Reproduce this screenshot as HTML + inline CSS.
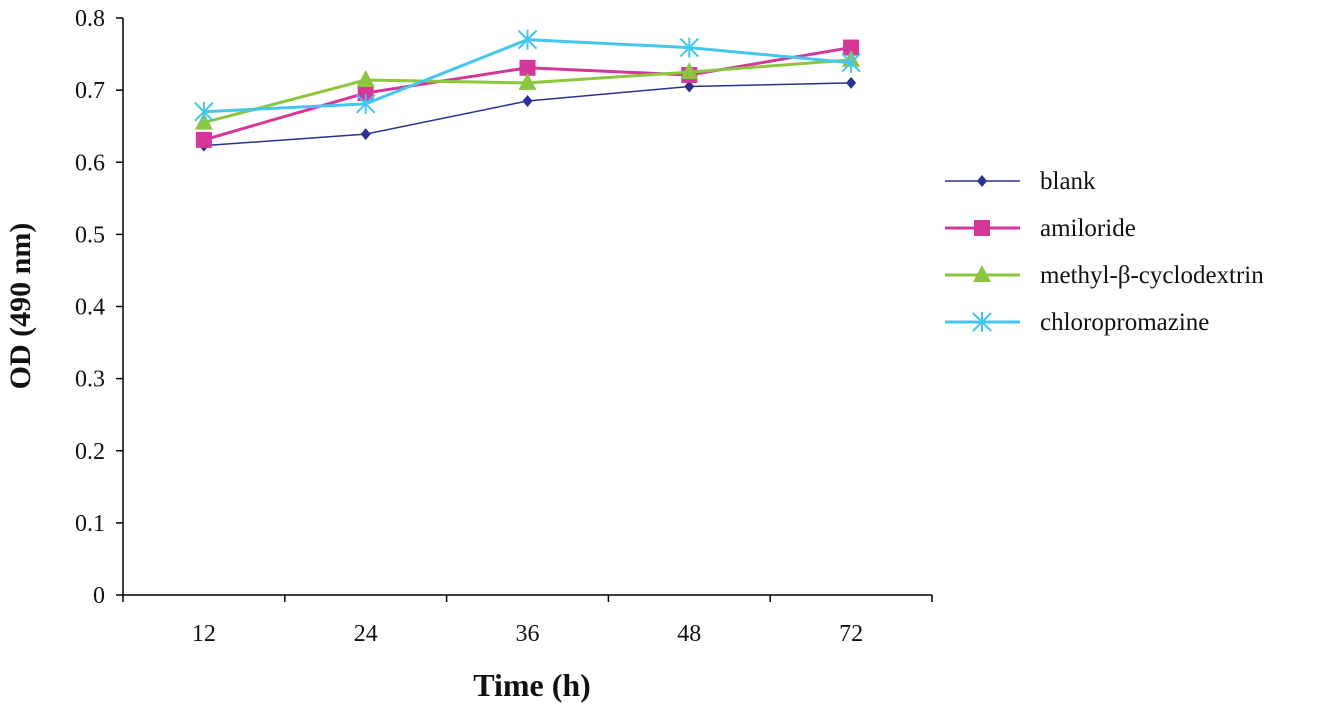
<!DOCTYPE html>
<html><head><meta charset="utf-8"><style>
body{margin:0;background:#fff}
svg text{font-family:"Liberation Serif",serif;fill:#111}
</style></head><body>
<svg width="1343" height="710">
<g id="axes"></g><g id="series"></g><g id="legend"></g>
<text x="30" y="306" font-size="30" font-weight="bold" text-anchor="middle" transform="rotate(-90 30 306)">OD (490 nm)</text>
<text x="532" y="696" font-size="32" font-weight="bold" text-anchor="middle">Time (h)</text>
</svg>
<script>
const categories=["12","24","36","48","72"];
const yTicks=[0,0.1,0.2,0.3,0.4,0.5,0.6,0.7,0.8];
const yTickLabels=["0","0.1","0.2","0.3","0.4","0.5","0.6","0.7","0.8"];
const seriesNames=["blank","amiloride","methyl-β-cyclodextrin","chloropromazine"];
const blank=[0.623,0.639,0.685,0.705,0.71];
const amiloride=[0.631,0.696,0.731,0.721,0.759];
const mbcd=[0.655,0.714,0.71,0.725,0.742];
const chloro=[0.67,0.681,0.77,0.759,0.738];
const NS="http://www.w3.org/2000/svg";
const x0=123,x1=932,y0=595,y1=18;
const band=(x1-x0)/categories.length;
const xs=i=>x0+band*(i+0.5);
const ys=v=>y0-(v/0.8)*(y0-y1);
function mk(t,a,p){const e=document.createElementNS(NS,t);for(const k in a)e.setAttribute(k,a[k]);p.appendChild(e);return e;}
const ax=document.getElementById('axes');
let l=mk('line',{x1:x0,y1:y1,x2:x0,y2:y0,stroke:'#000','stroke-width':1.5},ax);


l=mk('line',{x1:x0,y1:y0,x2:x1,y2:y0,stroke:'#000','stroke-width':1.5},ax);


yTicks.forEach((v,i)=>{const y=ys(v);
 mk('line',{x1:x0-7,y1:y,x2:x0,y2:y,stroke:'#000','stroke-width':1.5},ax);
 const t=mk('text',{x:x0-18,y:y+8,'font-size':24,'text-anchor':'end'},ax);t.textContent=yTickLabels[i];
 
 
});
for(let i=0;i<=categories.length;i++){const x=x0+band*i;mk('line',{x1:x,y1:y0,x2:x,y2:y0+7,stroke:'#000','stroke-width':1.5},ax);}
categories.forEach((c,i)=>{const t=mk('text',{x:xs(i),y:641,'font-size':24,'text-anchor':'middle'},ax);t.textContent=c;
 
 });
const colors=["#2b3190","#d4369a","#8cc63f","#45c6ee"];
const widths=[1.5,3,3,3];
const data=[blank,amiloride,mbcd,chloro];
function marker(k,x,y,g){const c=colors[k];
 if(k===0)return mk('polygon',{points:`${x},${y-6} ${x+5},${y} ${x},${y+6} ${x-5},${y}`,fill:c},g);
 if(k===1)return mk('rect',{x:x-8,y:y-8,width:16,height:16,fill:c},g);
 if(k===2)return mk('polygon',{points:`${x},${y-10} ${x+9},${y+7} ${x-9},${y+7}`,fill:c},g);
 const p=mk('path',{d:`M${x-9},${y-9}L${x+9},${y+9}M${x+9},${y-9}L${x-9},${y+9}M${x},${y-10}L${x},${y+10}`,stroke:c,'stroke-width':2},g);return p;}
const sg=document.getElementById('series');
data.forEach((arr,k)=>{const g=mk('g',{},sg);
 
 
 mk('polyline',{points:arr.map((v,i)=>xs(i)+','+ys(v)).join(' '),fill:'none',stroke:colors[k],'stroke-width':widths[k]},g);
 arr.forEach((v,i)=>{const m=marker(k,xs(i),ys(v),g);
  
  });
});
const lg=document.getElementById('legend');
seriesNames.forEach((n,k)=>{const y=181+k*47;const g=mk('g',{},lg);
 
 
 mk('line',{x1:945,y1:y,x2:1020,y2:y,stroke:colors[k],'stroke-width':widths[k]},g);
 marker(k,982,y,g);
 const t=mk('text',{x:1040,y:y+8,'font-size':25},g);t.textContent=n;});
</script>
</body></html>
